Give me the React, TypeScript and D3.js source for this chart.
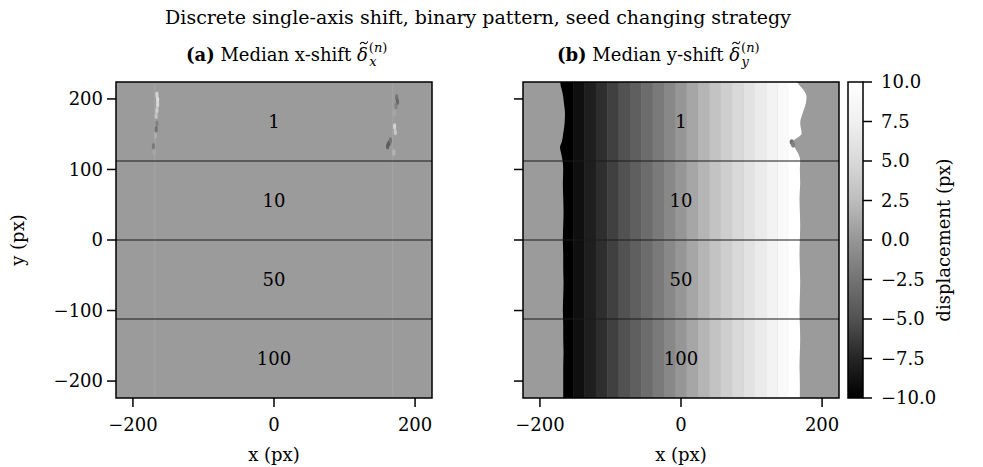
import { useLayoutEffect, useRef, useState } from "react";
import * as d3 from "d3";

const W = 983;
const H = 467;

const title = "Discrete single-axis shift, binary pattern, seed changing strategy";
const panelTags = ["(a)", "(b)"];
const panelNames = ["Median x-shift", "Median y-shift"];
const panelSubs = ["x", "y"];

const xTicks = [-200, 0, 200];
const yTicks = [200, 100, 0, -100, -200];
const cbTicks = [10, 7.5, 5, 2.5, 0, -2.5, -5, -7.5, -10];
// matplotlib Greys, reversed (dark -> light)
const greysR = ["#000000", "#252525", "#525252", "#737373", "#969696", "#bdbdbd", "#d9d9d9", "#f0f0f0", "#ffffff"];

const bandLines = [112, 0, -112];
const bandLabels = ["1", "10", "50", "100"];
const bandCenters = [168, 56, -56, -168];

// y-shift plateau levels across x (integer shifts)
const shiftLevels = [-10, -9, -8, -7, -6, -5, -4, -3, -2, -1, 0, 1, 2, 3, 4, 5, 6, 7, 8, 9, 10];
const backgroundValue = 0.3;

// wobbly borders of the shifted region (y, left x, right x)
const edgeY = [224, 222, 213, 203, 194, 180, 166, 151, 139, 132, 123, 113, 100, 80, 60, 40, 20, 0, -20, -40, -60, -80, -100, -120, -140, -160, -180, -200, -224];
const leftEdge = [-171, -171, -169, -167, -166, -164.5, -165, -167, -169, -171.5, -170, -168, -167, -167.5, -167, -166.5, -167, -167.5, -167, -167, -166.5, -167, -167.5, -167, -167, -166.5, -167, -167, -167];
const rightEdge = [165, 166, 173.5, 178, 177, 172.5, 169, 171, 159, 161, 166, 169, 168.5, 169, 168, 168.5, 169, 168.5, 168, 168.5, 169, 168.5, 168, 168.5, 169, 168.5, 168, 168.5, 168.5];

// small artefacts in the x-shift map: [x, y, value]
const xShiftSpots: [number, number, number][] = [
  [-166, 206, 4.5], [-165, 199, 5.5], [-165, 192, 5], [-166, 184, 4], [-167, 176, 3],
  [-166, 165, -1.5], [-167, 157, -2.5], [-168, 148, 1.5], [-171, 133, -2], [-170, 124, 1],
  [174, 202, -2.5], [175, 196, -3.5], [173, 190, -1.5], [171, 180, 1], [171, 161, 4.5],
  [172, 153, 3.5], [163, 137, -4.5], [161, 133, -4], [165, 141, -2.5], [170, 124, 2],
];
const xShiftLines = [-169, 168];
const xShiftLineValue = 1.4;
const yShiftSpots: [number, number, number][] = [[157, 139, -2.5], [159, 135, -1.5]];

const font = "'DejaVu Serif', serif";
const fs = 18;

const top = 82;
const bottom = 398;
const panelLeft = [116, 523];
const panelSize = 316;
const titleStart = [186, 557];
const cbX = 848;
const cbW = 15;

export default function App() {
  const deltaRefs = useRef<(SVGTSpanElement | null)[]>([]);
  const [tildes, setTildes] = useState<{ x: number; y: number }[]>([]);

  // place the tilde accent above each measured delta glyph
  useLayoutEffect(() => {
    const pos = deltaRefs.current.map((el) => {
      if (!el) return { x: 0, y: 0 };
      const b = el.getBBox();
      return { x: b.x + b.width / 2 + 1.5, y: b.y - 1 };
    });
    setTildes(pos);
  }, []);

  const y = d3.scaleLinear().domain([-224, 224]).range([bottom, top]);
  const xs = panelLeft.map((l) => d3.scaleLinear().domain([-224, 224]).range([l, l + panelSize]));
  const color = d3.scaleLinear<string>().domain([...cbTicks].reverse()).range(greysR).clamp(true);
  const cbY = d3.scaleLinear().domain([-10, 10]).range([bottom, top]);
  const bg = color(backgroundValue);

  const band = d3.scaleBand<number>().domain(shiftLevels).range([-169, 169]);
  const edges = edgeY.map((v, i) => ({ y: v, l: leftEdge[i], r: rightEdge[i] }));
  const xB = xs[1];
  const area = d3
    .area<{ y: number; l: number; r: number }>()
    .y((d) => y(d.y))
    .x0((d) => xB(d.l))
    .x1((d) => xB(d.r))
    .curve(d3.curveMonotoneY);

  const fmtAxis = d3.format("d");
  const fmtCb = d3.format(".1f");
  const unit = xs[0](1) - xs[0](0);

  return (
    <svg width={W} height={H} style={{ position: "absolute", left: 0, top: 0, background: "#fff" }} fontFamily={font}>
      <defs>
        <clipPath id="ramp">
          <path d={area(edges) ?? ""} />
        </clipPath>
        <clipPath id="panelA">
          <rect x={panelLeft[0]} y={top} width={panelSize} height={panelSize} />
        </clipPath>
        <filter id="soft" x="-50%" y="-50%" width="200%" height="200%">
          <feGaussianBlur stdDeviation={0.7} />
        </filter>
        <linearGradient id="cb" x1="0" y1="1" x2="0" y2="0">
          {greysR.map((c, i) => (
            <stop key={i} offset={i / (greysR.length - 1)} stopColor={c} />
          ))}
        </linearGradient>
      </defs>

      <text x={478} y={24} textAnchor="middle" fontSize={19}>
        {title}
      </text>

      {xs.map((x, p) => (
        <g key={p}>
          <rect x={x.range()[0]} y={top} width={panelSize} height={panelSize} fill={bg} />
          {p === 0 && (
            <g clipPath="url(#panelA)">
              {xShiftLines.map((v) => (
                <rect key={v} x={x(v - 1)} y={top} width={2 * unit} height={panelSize} fill={color(xShiftLineValue)} opacity={0.45} />
              ))}
              <g filter="url(#soft)">
                {xShiftSpots.map(([sx, sy, v], i) => (
                  <ellipse key={i} cx={x(sx)} cy={y(sy)} rx={2.2 * unit} ry={4.5 * unit} fill={color(v)} />
                ))}
              </g>
            </g>
          )}
          {p === 1 && (
            <g>
              <g clipPath="url(#ramp)">
                {shiftLevels.map((l, i) => {
                  const x0 = i === 0 ? -200 : band(l)!;
                  const x1 = i === shiftLevels.length - 1 ? 200 : band(l)! + band.bandwidth();
                  return <rect key={l} x={x(x0)} y={top} width={x(x1) - x(x0) + 0.3} height={panelSize} fill={color(l)} />;
                })}
              </g>
              <g filter="url(#soft)">
                {yShiftSpots.map(([sx, sy, v], i) => (
                  <ellipse key={i} cx={x(sx)} cy={y(sy)} rx={3 * unit} ry={4 * unit} fill={color(v)} />
                ))}
              </g>
            </g>
          )}
          {bandLines.map((b) => (
            <line key={b} x1={x.range()[0]} x2={x.range()[1]} y1={y(b)} y2={y(b)} stroke="#1a1a1a" strokeWidth={1.2} />
          ))}
          {bandLabels.map((t, i) => (
            <text key={t} x={x(0)} y={y(bandCenters[i])} dy="0.35em" textAnchor="middle" fontSize={fs}>
              {t}
            </text>
          ))}
          <rect x={x.range()[0]} y={top} width={panelSize} height={panelSize} fill="none" stroke="#000" strokeWidth={1.5} />
          {xTicks.map((t) => (
            <g key={t}>
              <line x1={x(t)} x2={x(t)} y1={bottom} y2={bottom + 9} stroke="#000" strokeWidth={1.5} />
              <text x={x(t)} y={bottom + 33} textAnchor="middle" fontSize={fs}>
                {fmtAxis(t)}
              </text>
            </g>
          ))}
          {yTicks.map((t) => (
            <g key={t}>
              <line x1={x.range()[0] - 9} x2={x.range()[0]} y1={y(t)} y2={y(t)} stroke="#000" strokeWidth={1.5} />
              {p === 0 && (
                <text x={x.range()[0] - 13} y={y(t)} dy="0.35em" textAnchor="end" fontSize={fs}>
                  {fmtAxis(t)}
                </text>
              )}
            </g>
          ))}
          <text x={x(0)} y={461} textAnchor="middle" fontSize={fs}>
            x (px)
          </text>
          <text x={titleStart[p]} y={61} fontSize={fs}>
            <tspan fontWeight="bold">{panelTags[p]}</tspan>
            <tspan>{" " + panelNames[p] + " "}</tspan>
            <tspan
              fontStyle="italic"
              ref={(el) => {
                deltaRefs.current[p] = el;
              }}
            >
              δ
            </tspan>
            <tspan fontSize={13} dx={1} dy={-9}>
              (<tspan fontStyle="italic">n</tspan>)
            </tspan>
            <tspan fontSize={13} fontStyle="italic" dx={-18} dy={14}>
              {panelSubs[p]}
            </tspan>
          </text>
          {tildes[p] && (
            <path
              transform={`translate(${tildes[p].x},${tildes[p].y})`}
              d="M-3.8,1.2 C-2,-2.2 0,-0.2 0.6,0.2 C1.6,0.9 2.6,1.4 3.8,-1.6"
              fill="none"
              stroke="#000"
              strokeWidth={1.1}
            />
          )}
        </g>
      ))}

      <text transform={`translate(24,${y(0)}) rotate(-90)`} textAnchor="middle" fontSize={fs}>
        y (px)
      </text>

      <rect x={cbX} y={top} width={cbW} height={panelSize} fill="url(#cb)" stroke="#000" strokeWidth={1.5} />
      {cbTicks.map((t) => (
        <g key={t}>
          <line x1={cbX + cbW} x2={cbX + cbW + 9} y1={cbY(t)} y2={cbY(t)} stroke="#000" strokeWidth={1.5} />
          <text x={cbX + cbW + 18} y={cbY(t)} dy="0.35em" fontSize={fs}>
            {fmtCb(t)}
          </text>
        </g>
      ))}
      <text transform={`translate(950,${y(0)}) rotate(-90)`} textAnchor="middle" fontSize={fs}>
        displacement (px)
      </text>
    </svg>
  );
}
